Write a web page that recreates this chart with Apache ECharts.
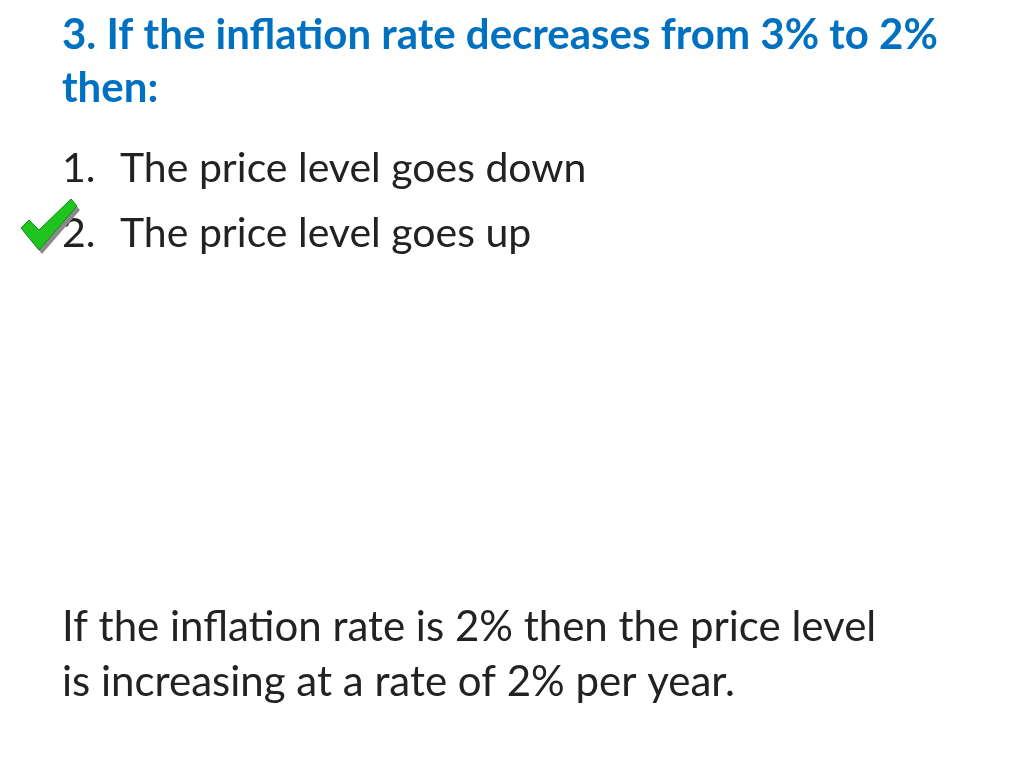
<!DOCTYPE html>
<html><head><meta charset="utf-8">
<script src="https://cdn.jsdelivr.net/npm/echarts@6/dist/echarts.min.js"></script>
<style>html,body{margin:0;padding:0;background:#fff}#c{width:1024px;height:768px}</style>
</head><body><div id="c"></div>
<script>
const titleLines = ["3. If the inflation rate decreases from 3% to 2%", "then:"];
const optionNumbers = ["1.", "2."];
const optionTexts = ["The price level goes down", "The price level goes up"];
const noteLines = ["If the inflation rate is 2% then the price level", "is increasing at a rate of 2% per year."];

const chart = echarts.init(document.getElementById('c'));
const F = 'Lato, "Open Sans", sans-serif';
const els = [];
titleLines.forEach((t, i) => els.push({type:'text', left:62, top:14 + i*53,
  style:{text:t, font:'bold 42px ' + F, fill:'#0070C0'}}));
optionTexts.forEach((t, i) => {
  els.push({type:'text', left:62, top:148 + i*65, style:{text:optionNumbers[i], font:'41px ' + F, fill:'#222'}});
  els.push({type:'text', left:120, top:148 + i*65, style:{text:t, font:'41px ' + F, fill:'#222'}});
});
noteLines.forEach((t, i) => els.push({type:'text', left:62, top:606 + i*55,
  style:{text:t, font:'42px ' + F, fill:'#222'}}));
els.push({type:'polygon', shape:{points:[[24,232],[32,224],[42,234],[74,203],[80,210],[42,254]]},
  style:{fill:'#8a8a8a'}});
els.push({type:'polygon', shape:{points:[[21,228],[29,220],[39,230],[71,199],[77,206],[39,250]]},
  style:{fill:'#1fc41f', stroke:'#0f8f0f', lineWidth:1}});
chart.setOption({graphic:{elements:els}});
</script></body></html>
